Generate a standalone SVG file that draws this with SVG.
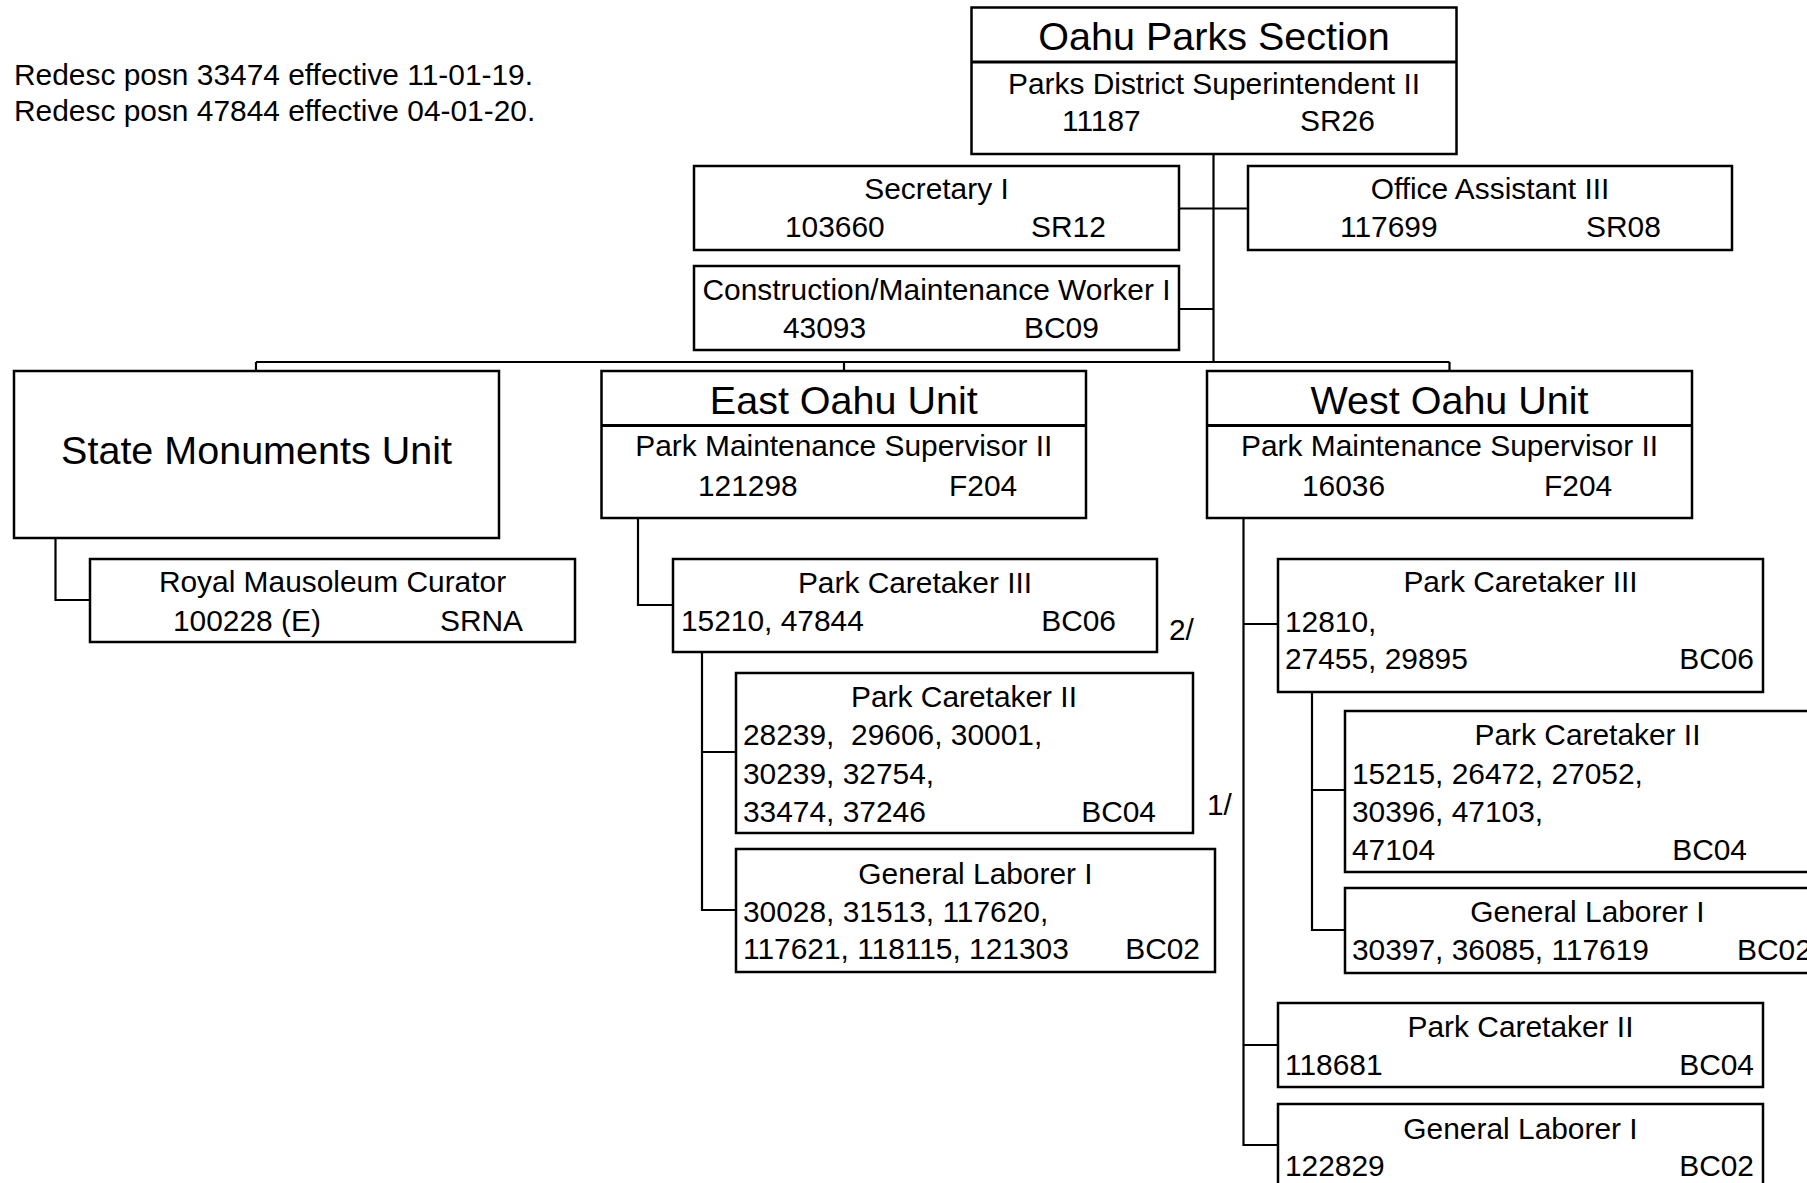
<svg xmlns="http://www.w3.org/2000/svg" width="1807" height="1183" viewBox="0 0 1807 1183">
<style>
text{font-family:"Liberation Sans",Arial,Helvetica,sans-serif;font-size:29.9px;fill:#000}
.t{font-size:39.5px}
.c{text-anchor:middle}
.r{text-anchor:end}
rect{fill:#fff;stroke:#000;stroke-width:2.5}
.dv{stroke:#000;stroke-width:3;fill:none}
#connectors path{fill:none;stroke:#000;stroke-width:2.2}
</style>
<rect x="0" y="0" width="1807" height="1183" style="stroke:none;fill:#fff"/>
<g id="notes">
<text x="14" y="85">Redesc posn 33474 effective 11-01-19.</text>
<text x="14" y="120.5">Redesc posn 47844 effective 04-01-20.</text>
</g>
<g id="connectors">
<path d="M1213.5 154V362M1179 208.5H1248M1179 309H1213.5"/>
<path d="M256 362H1449.5M256 362V371M844 362V371M1449.5 362V371"/>
<path d="M55.5 538V600H90"/>
<path d="M638 518V605H673"/>
<path d="M702 652V910H736M702 752H736"/>
<path d="M1243.5 518V1145H1278M1243.5 624H1278M1243.5 1045H1278"/>
<path d="M1312 692V930H1345M1312 790H1345"/>
</g>
<g id="oahu-parks-section">
<rect x="971.5" y="7.5" width="485" height="146.5"/>
<path class="dv" d="M971.5 62H1456.5"/>
<text class="t c" x="1214" y="50">Oahu Parks Section</text>
<text class="c" x="1214" y="94">Parks District Superintendent II</text>
<text x="1062" y="131">11187</text>
<text x="1300" y="131">SR26</text>
</g>
<g id="secretary">
<rect x="694" y="166" width="485" height="84"/>
<text class="c" x="936.5" y="198.5">Secretary I</text>
<text x="785" y="237">103660</text>
<text x="1031" y="237">SR12</text>
</g>
<g id="office-assistant">
<rect x="1248" y="166" width="484" height="84"/>
<text class="c" x="1490" y="198.5">Office Assistant III</text>
<text x="1340" y="237">117699</text>
<text x="1586" y="237">SR08</text>
</g>
<g id="construction-worker">
<rect x="694" y="266" width="485" height="84"/>
<text class="c" x="936.5" y="299.5">Construction/Maintenance Worker I</text>
<text x="783" y="338">43093</text>
<text x="1024" y="338">BC09</text>
</g>
<g id="state-monuments-unit">
<rect x="14" y="371" width="485" height="167"/>
<text class="t c" x="256.5" y="464">State Monuments Unit</text>
</g>
<g id="royal-mausoleum-curator">
<rect x="90" y="559" width="485" height="83"/>
<text class="c" x="332.5" y="592">Royal Mausoleum Curator</text>
<text x="173" y="631">100228 (E)</text>
<text x="440" y="631">SRNA</text>
</g>
<g id="east-oahu-unit">
<rect x="601.5" y="371" width="484.5" height="147"/>
<path class="dv" d="M601.5 425.5H1086"/>
<text class="t c" x="843.75" y="414">East Oahu Unit</text>
<text class="c" x="843.75" y="456">Park Maintenance Supervisor II</text>
<text x="698" y="496">121298</text>
<text x="949" y="496">F204</text>
</g>
<g id="west-oahu-unit">
<rect x="1207" y="371" width="485" height="147"/>
<path class="dv" d="M1207 425.5H1692"/>
<text class="t c" x="1449.5" y="414">West Oahu Unit</text>
<text class="c" x="1449.5" y="456">Park Maintenance Supervisor II</text>
<text x="1302" y="496">16036</text>
<text x="1544" y="496">F204</text>
</g>
<g id="east-park-caretaker-iii">
<rect x="673" y="559" width="484" height="93"/>
<text class="c" x="915" y="592.5">Park Caretaker III</text>
<text x="681" y="631">15210, 47844</text>
<text class="r" x="1116" y="631">BC06</text>
</g>
<g id="note-2">
<text x="1169" y="640">2/</text>
</g>
<g id="east-park-caretaker-ii">
<rect x="736" y="673" width="457" height="160"/>
<text class="c" x="964" y="706.5">Park Caretaker II</text>
<text x="743" y="744.5" xml:space="preserve">28239,  29606, 30001,</text>
<text x="743" y="783.5">30239, 32754,</text>
<text x="743" y="821.5">33474, 37246</text>
<text class="r" x="1156" y="821.5">BC04</text>
</g>
<g id="note-1">
<text x="1207" y="815">1/</text>
</g>
<g id="east-general-laborer-i">
<rect x="736" y="849" width="479" height="123"/>
<text class="c" x="975.5" y="883.5">General Laborer I</text>
<text x="743" y="921.5">30028, 31513, 117620,</text>
<text x="743" y="959">117621, 118115, 121303</text>
<text class="r" x="1200" y="959">BC02</text>
</g>
<g id="west-park-caretaker-iii">
<rect x="1278" y="559" width="485" height="133"/>
<text class="c" x="1520.5" y="591.5">Park Caretaker III</text>
<text x="1285" y="631.5">12810,</text>
<text x="1285" y="669">27455, 29895</text>
<text class="r" x="1754" y="669">BC06</text>
</g>
<g id="west-park-caretaker-ii-a">
<rect x="1345" y="711" width="485" height="161"/>
<text class="c" x="1587.5" y="745">Park Caretaker II</text>
<text x="1352" y="783.5">15215, 26472, 27052,</text>
<text x="1352" y="821.5">30396, 47103,</text>
<text x="1352" y="859.5">47104</text>
<text class="r" x="1747" y="859.5">BC04</text>
</g>
<g id="west-general-laborer-i-a">
<rect x="1345" y="888" width="485" height="85"/>
<text class="c" x="1587.5" y="921.5">General Laborer I</text>
<text x="1352" y="959.5">30397, 36085, 117619</text>
<text x="1737" y="959.5">BC02</text>
</g>
<g id="west-park-caretaker-ii-b">
<rect x="1278" y="1003" width="485" height="84"/>
<text class="c" x="1520.5" y="1037">Park Caretaker II</text>
<text x="1285" y="1075">118681</text>
<text class="r" x="1754" y="1075">BC04</text>
</g>
<g id="west-general-laborer-i-b">
<rect x="1278" y="1104" width="485" height="86"/>
<text class="c" x="1520.5" y="1138.5">General Laborer I</text>
<text x="1285" y="1175.5">122829</text>
<text class="r" x="1754" y="1175.5">BC02</text>
</g>
</svg>
